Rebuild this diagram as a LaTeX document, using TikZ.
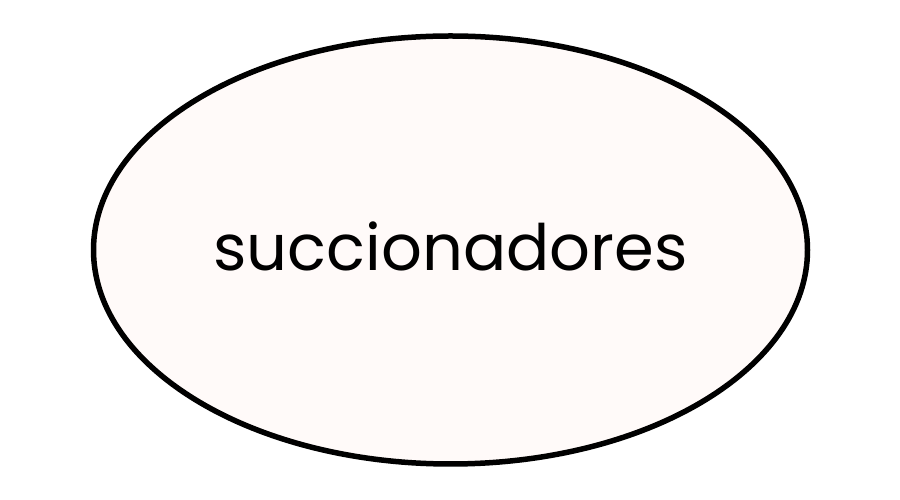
\documentclass[tikz,border=0pt]{standalone}
\usepackage{fontspec}
\setmainfont{Poppins}
\usetikzlibrary{shapes.geometric}

\definecolor{blushfill}{HTML}{FFFAF9}

\begin{document}
\begin{tikzpicture}[x=1pt,y=1pt,
  blob/.style={ellipse, draw=black, line width=5.5pt, fill=blushfill,
    minimum width=714pt, minimum height=428pt, inner sep=0pt,
    font=\fontsize{64}{76}\selectfont}]
  \useasboundingbox (0,0) rectangle (900,500);
% the single ellipse with its label
  \node[blob] (succ) at (450.5,250) {};
  \node[font=\fontsize{64}{76}\selectfont, inner sep=0pt] (label) at (450.5,254) {succionadores};
\end{tikzpicture}
\end{document}
